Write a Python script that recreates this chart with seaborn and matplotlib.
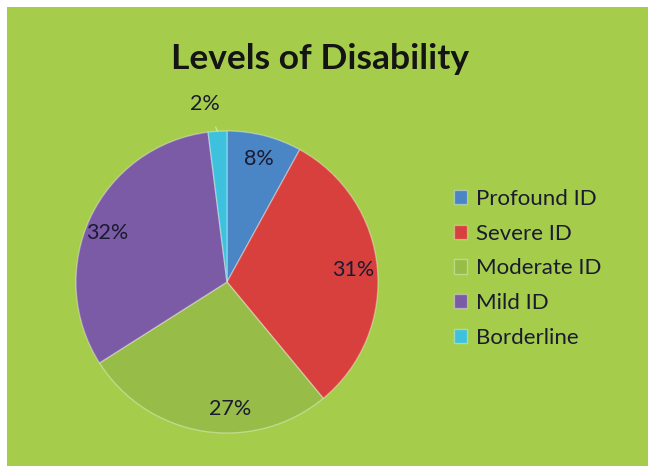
import matplotlib
matplotlib.use("Agg")
import matplotlib.pyplot as plt
import matplotlib.patches as mpatches
import seaborn as sns
import numpy as np

categories = ["Profound ID", "Severe ID", "Moderate ID", "Mild ID", "Borderline"]
values = [8, 31, 27, 32, 2]
colors = ["#4A85C6", "#D8403D", "#97BC48", "#7C5BA6", "#3DC1DD"]
title = "Levels of Disability"

sns.set_style("white")
plt.rcParams["font.family"] = ["Lato", "DejaVu Sans"]

W, H = 648, 466
fig = plt.figure(figsize=(W / 100, H / 100), dpi=100, facecolor="white")
bg = "#A5CD4B"
fig.patches.append(mpatches.Rectangle((7 / W, 0), (W - 7) / W, (H - 7) / H,
                                      transform=fig.transFigure, facecolor=bg,
                                      edgecolor="none", zorder=-10))

cx, cy, R = 227, 282, 151
lim = 1.2
size = R * lim * 2
ax = fig.add_axes([(cx - R * lim) / W, (H - cy - R * lim) / H, size / W, size / H])
ax.set_facecolor("none")
ax.set_zorder(2)

txtc = "#1a1a30"
wedges, texts, autotexts = ax.pie(
    values, colors=colors, startangle=90, counterclock=False,
    autopct=lambda p: f"{p:.0f}%", pctdistance=0.84, radius=1,
    wedgeprops=dict(edgecolor=(1, 1, 1, 0.35), linewidth=1.0),
    textprops=dict(fontsize=15.5, color=txtc))
ax.set_xlim(-lim, lim)
ax.set_ylim(-lim, lim)
ax.set_aspect("equal")

# Moderate label sits a bit more centred in the reference
x, y = autotexts[2].get_position()
autotexts[2].set_position((x + 0.15, y - 0.01))
x, y = autotexts[3].get_position()
autotexts[3].set_position((x - 0.03, y - 0.03))

# small slice label outside with leader line
w = wedges[-1]
mid = np.deg2rad((w.theta1 + w.theta2) / 2)
at = autotexts[-1]
at.set_visible(False)
ax.annotate(at.get_text(), xy=(np.cos(mid) * 1.0, np.sin(mid) * 1.0),
            xytext=(np.cos(mid + 0.06) * 1.19, np.sin(mid + 0.06) * 1.19),
            ha="center", va="center", fontsize=15.5, color=txtc,
            arrowprops=dict(arrowstyle="-", color=(1, 1, 1, 0.5), lw=0.8,
                            shrinkA=8, shrinkB=0))

fig.text(320 / W, 1 - 59 / H, title, ha="center", va="center",
         fontsize=25.5, fontweight="bold", color="#141414")

leg = fig.legend(wedges, categories, loc="upper left",
                 bbox_to_anchor=(434 / W, 1 - 169 / H), frameon=False,
                 fontsize=16, handlelength=0.6, handleheight=0.6, handletextpad=0.4,
                 labelspacing=0.66, labelcolor=txtc)

fig.savefig("out.png", dpi=100, facecolor="white")
